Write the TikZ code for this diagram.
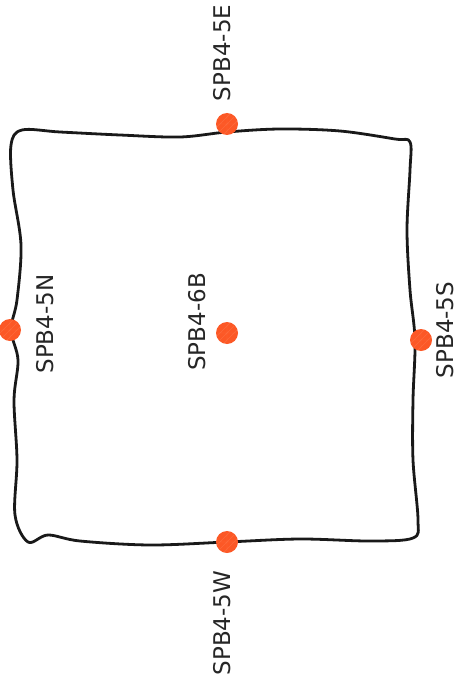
\documentclass[tikz,border=0pt]{standalone}
\usepackage{fontspec}
\setmainfont{DejaVu Sans}
\usetikzlibrary{calc}
\definecolor{dotorange}{RGB}{252,88,38}
\definecolor{hatch}{RGB}{255,140,100}
\begin{document}
\begin{tikzpicture}[x=1pt,y=-1pt,
  outline/.style={line width=2.8pt,draw=black!90,line join=round},
  pin/.style={circle,fill=dotorange,minimum size=22pt,inner sep=0pt},
  lbl/.style={rotate=90,font=\fontsize{23}{26}\selectfont,text=black!85,inner sep=0pt}]
\useasboundingbox (0,0) rectangle (460,687);
\draw[outline] plot[smooth cycle,tension=0.55] coordinates {
 (22,130) (60,132) (120,135) (180,137) (227,132) (280,129) (340,131) (395,139) (410,142)
 (410,170) (407,230) (410,290) (415,340) (413,400) (413,460) (418,520) (413,538)
 (370,541) (300,539) (227,542) (150,545) (80,541) (48,535) (28,542)
 (15,515) (17,460) (14,400) (18,360) (11,330) (17,300) (21,245) (13,190) (11,145)};
\foreach \n/\p in {e/{227,124},n/{10,330},b/{227,333},s/{421,340},w/{227,542}}{
  \node[pin] (\n) at (\p) {};
  \begin{scope}
    \clip (\n) circle (11pt);
    \draw[hatch,line width=0.4pt,opacity=0.35] ($(\n)+(-15,15)$) -- +(30,-30) ($(\n)+(-8,15)$) -- +(30,-30) ($(\n)+(-22,15)$) -- +(30,-30) ($(\n)+(-15,0)$) -- +(30,0) ($(\n)+(0,-15)$) -- +(0,30);
  \end{scope}
}
\node[lbl] (le) at (222,53) {SPB4-5E};
\node[lbl] (ln) at (45,324) {SPB4-5N};
\node[lbl] (lb) at (197,322) {SPB4-6B};
\node[lbl] (ls) at (445,330) {SPB4-5S};
\node[lbl] (lw) at (222,623) {SPB4-5W};
\end{tikzpicture}
\end{document}
